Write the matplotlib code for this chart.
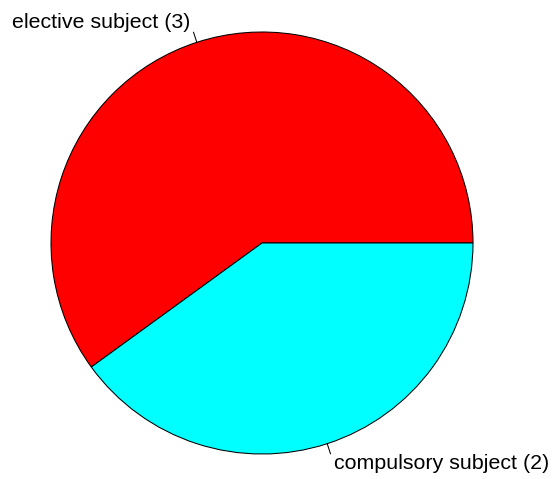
import numpy as np
import matplotlib
matplotlib.use('Agg')
import matplotlib.pyplot as plt

labels = ['elective subject (3)', 'compulsory subject (2)']
values = [3, 2]
colors = ['#FF0000', '#00FFFF']

W, H = 553, 479
fig = plt.figure(figsize=(W / 100, H / 100), dpi=100)
ax = fig.add_axes([0, 0, 1, 1])
ax.set_xlim(0, W)
ax.set_ylim(0, H)
ax.axis('off')

cx, cy, r = 262, H - 243, 211
wedges, _ = ax.pie(values, colors=colors, startangle=0, counterclock=True,
                   center=(cx, cy), radius=r, frame=True,
                   wedgeprops=dict(edgecolor='black', linewidth=0.75))
ax.set_xlim(0, W)
ax.set_ylim(0, H)
ax.axis('off')

# R-style labels: short tick from 1.0r to 1.05r, text at 1.1r
for w, lab in zip(wedges, labels):
    ang = np.deg2rad((w.theta1 + w.theta2) / 2)
    c, s = np.cos(ang), np.sin(ang)
    ax.plot([cx + r * c, cx + 1.05 * r * c], [cy + r * s, cy + 1.05 * r * s],
            color='black', linewidth=0.75)
    ax.text(cx + 1.1 * r * c, cy + 1.1 * r * s, lab,
            ha='left' if c > 0 else 'right', va='center',
            fontsize=15.4, family='Liberation Sans')

fig.savefig('out.png', dpi=100)
